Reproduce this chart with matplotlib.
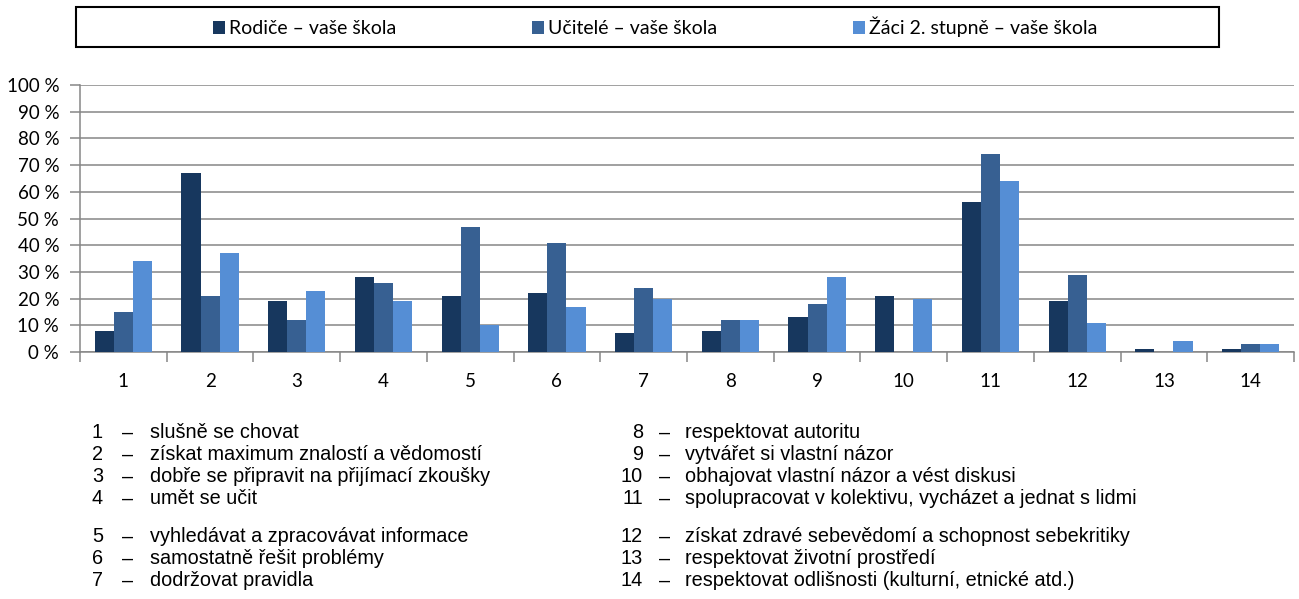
import numpy as np
import matplotlib
matplotlib.use("Agg")
import matplotlib.pyplot as plt
from matplotlib.patches import Rectangle

categories = [str(i) for i in range(1, 15)]
rodice = [8, 67, 19, 28, 21, 22, 7, 8, 13, 21, 56, 19, 1, 1]
ucitele = [15, 21, 12, 26, 47, 41, 24, 12, 18, 0, 74, 29, 0, 3]
zaci = [34, 37, 23, 19, 10, 17, 20, 12, 28, 20, 64, 11, 4, 3]
series_names = ["Rodiče – vaše škola", "Učitelé – vaše škola", "Žáci 2. stupně – vaše škola"]
colors = ["#17375E", "#376092", "#558ED5"]

descriptions = [
    "slušně se chovat",
    "získat maximum znalostí a vědomostí",
    "dobře se připravit na přijímací zkoušky",
    "umět se učit",
    "vyhledávat a zpracovávat informace",
    "samostatně řešit problémy",
    "dodržovat pravidla",
    "respektovat autoritu",
    "vytvářet si vlastní názor",
    "obhajovat vlastní názor a vést diskusi",
    "spolupracovat v kolektivu, vycházet a jednat s lidmi",
    "získat zdravé sebevědomí a schopnost sebekritiky",
    "respektovat životní prostředí",
    "respektovat odlišnosti (kulturní, etnické atd.)",
]

W, H = 1299, 599
fig = plt.figure(figsize=(W / 100, H / 100), dpi=100)
ax = fig.add_axes([80 / W, 1 - 352 / H, (1294 - 80) / W, (352 - 85) / H])

x = np.arange(len(categories))
bw = 0.22
for i, (vals, name) in enumerate(zip([rodice, ucitele, zaci], series_names)):
    ax.bar(x + (i - 1) * bw, vals, width=bw, color=colors[i], label=name, zorder=3)

ax.set_xlim(-0.5, len(categories) - 0.5)
ax.set_ylim(0, 100)
ax.set_yticks(np.arange(0, 101, 10))
ax.set_yticklabels([f"{v} %" for v in range(0, 101, 10)], family="Lato", fontsize=13.5)
ax.set_xticks(x)
ax.set_xticklabels(categories, family="Lato", fontsize=13.5)
ax.tick_params(axis="x", length=0, pad=15)
ax.tick_params(axis="y", length=7, color="#868686", width=1.1, pad=8)
ax.set_xticks(np.arange(-0.5, len(categories) + 0.5, 1), minor=True)
ax.tick_params(axis="x", which="minor", length=7, color="#868686", width=1.1)
ax.grid(axis="y", color="#868686", linewidth=1.1, zorder=0)
for s in ["top", "right"]:
    ax.spines[s].set_visible(False)
for s in ["left", "bottom"]:
    ax.spines[s].set_color("#868686")
    ax.spines[s].set_linewidth(1.1)

# legend box on top
fig.patches.append(Rectangle((76 / W, 1 - 47 / H), (1219 - 76) / W, 40 / H,
                             transform=fig.transFigure, fill=False,
                             edgecolor="black", linewidth=1.5))
fig.legend(loc="center", bbox_to_anchor=(655 / W, 1 - 27 / H), ncol=3, frameon=False,
           prop={"family": "Lato", "size": 14}, handlelength=0.62, handleheight=0.62,
           handletextpad=0.2, columnspacing=7.0)

# numbered descriptions below the chart
rows_y = [433, 455, 477, 499, 537, 559, 581]
tf = {"family": "Liberation Sans", "fontsize": 14.3, "va": "center"}
for k, desc in enumerate(descriptions):
    col = k // 7
    y = 1 - rows_y[k % 7] / H
    xn, xd, xt = (103, 128, 150) if col == 0 else (643, 665, 685)
    fig.text(xn / W, y, str(k + 1), ha="right", **tf)
    fig.text(xd / W, y, "–", ha="center", **tf)
    fig.text(xt / W, y, desc, ha="left", **tf)

fig.savefig("out.png", dpi=100)
